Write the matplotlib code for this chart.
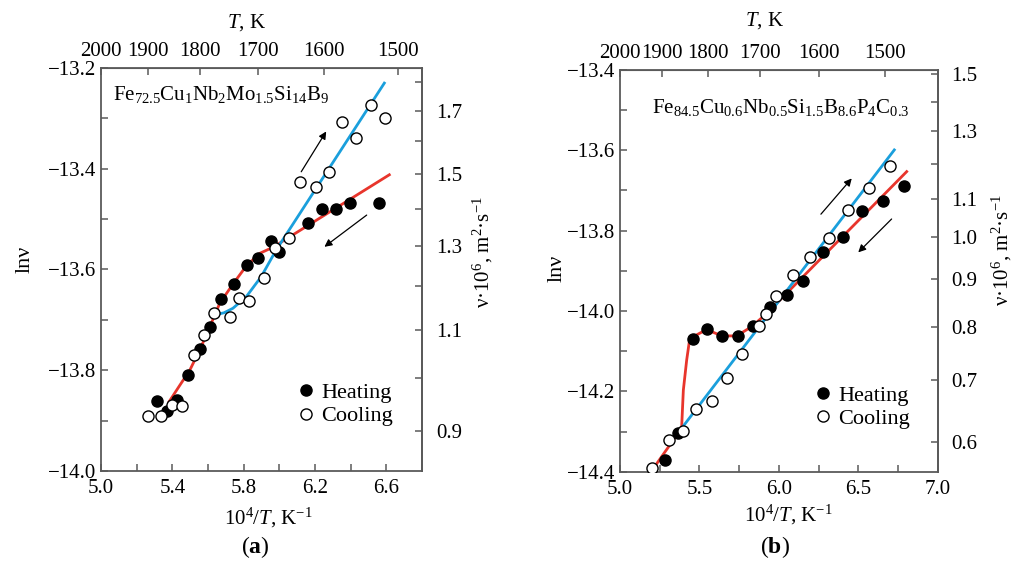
import numpy as np
import matplotlib.pyplot as plt
from matplotlib.lines import Line2D

plt.rcParams['font.family'] = 'Liberation Serif'
plt.rcParams['mathtext.fontset'] = 'custom'
plt.rcParams['mathtext.rm'] = 'Liberation Serif'
plt.rcParams['mathtext.it'] = 'Liberation Serif:italic'
plt.rcParams['mathtext.bf'] = 'Liberation Serif:bold'

RED = '#e8352c'
BLUE = '#1a9fdc'
AXC = '#5a5a5a'

# ---- panel (a): Fe72.5Cu1Nb2Mo1.5Si14B9 ----
heat_a_x = [5.315, 5.371, 5.427, 5.489, 5.558, 5.610, 5.675, 5.744, 5.819, 5.880,
            5.951, 6.001, 6.162, 6.240, 6.320, 6.399, 6.561]
heat_a_y = [-13.861, -13.881, -13.859, -13.809, -13.758, -13.714, -13.659, -13.629,
            -13.591, -13.578, -13.543, -13.565, -13.508, -13.480, -13.480, -13.469, -13.469]
cool_a_x = [5.265, 5.339, 5.401, 5.457, 5.520, 5.576, 5.634, 5.722, 5.772, 5.830,
            5.914, 5.977, 6.052, 6.117, 6.208, 6.281, 6.352, 6.430, 6.514, 6.594]
cool_a_y = [-13.890, -13.890, -13.869, -13.872, -13.770, -13.730, -13.687, -13.695,
            -13.657, -13.662, -13.616, -13.558, -13.537, -13.427, -13.437, -13.407,
            -13.308, -13.338, -13.273, -13.300]
fit_heat_a_x = [5.383, 5.440, 5.498, 5.560, 5.610, 5.666, 5.740, 5.815, 5.890, 5.964, 6.617]
fit_heat_a_y = [-13.862, -13.831, -13.800, -13.755, -13.714, -13.667, -13.629, -13.593,
                -13.568, -13.556, -13.412]
fit_cool_a_x = [5.638, 5.690, 5.740, 5.815, 5.899, 5.983, 6.589]
fit_cool_a_y = [-13.690, -13.686, -13.677, -13.654, -13.614, -13.561, -13.230]
arrow_up_a = [(6.123, -13.406), (6.263, -13.326)]
arrow_down_a = [(6.490, -13.492), (6.253, -13.555)]

# ---- panel (b): Fe84.5Cu0.6Nb0.5Si1.5B8.6P4C0.3 ----
heat_b_x = [5.283, 5.363, 5.458, 5.550, 5.640, 5.741, 5.839, 5.944, 6.049, 6.154,
            6.280, 6.402, 6.521, 6.654, 6.790]
heat_b_y = [-14.371, -14.303, -14.070, -14.045, -14.062, -14.062, -14.037, -13.991,
            -13.960, -13.925, -13.854, -13.817, -13.751, -13.725, -13.688]
cool_b_x = [5.199, 5.311, 5.399, 5.478, 5.577, 5.672, 5.770, 5.875, 5.919, 5.980,
            6.087, 6.196, 6.318, 6.437, 6.568, 6.700]
cool_b_y = [-14.390, -14.321, -14.298, -14.244, -14.223, -14.167, -14.108, -14.037,
            -14.008, -13.963, -13.910, -13.865, -13.819, -13.749, -13.693, -13.638]
fit_heat_b_x = [5.210, 5.388, 5.399, 5.420, 5.441, 5.480, 5.546, 5.640, 5.735, 5.829, 5.924, 6.805]
fit_heat_b_y = [-14.392, -14.292, -14.197, -14.122, -14.064, -14.060, -14.046, -14.062,
                -14.062, -14.039, -14.006, -13.653]
fit_cool_b_x = [5.388, 6.727]
fit_cool_b_y = [-14.292, -13.599]
arrow_up_b = [(6.265, -13.759), (6.459, -13.670)]
arrow_down_b = [(6.710, -13.771), (6.500, -13.854)]

T_ticks = [2000, 1900, 1800, 1700, 1600, 1500]


def inv(x):
    x = np.asarray(x, dtype=float)
    with np.errstate(divide='ignore', invalid='ignore'):
        return np.where(np.abs(x) < 1e-9, 1e9, 1e4 / x)


def to_nu(y):
    return np.exp(np.asarray(y, dtype=float)) * 1e6


def from_nu(v):
    v = np.clip(np.asarray(v, dtype=float), 1e-9, None)
    return np.log(v * 1e-6)


def draw_panel(ax, hx, hy, cx, cy, fhx, fhy, fcx, fcy, up, down,
               xlim, ylim, xmaj, xmin, ymaj, ymin, nu_maj, nu_min, formula,
               leg_anchor, lab):
    ax.plot(fhx, fhy, color=RED, lw=2, zorder=2)
    ax.plot(fcx, fcy, color=BLUE, lw=2, zorder=2)
    ax.plot(hx, hy, 'o', color='black', mec='black', ms=8, zorder=3)
    ax.plot(cx, cy, 'o', color='white', mec='black', mew=1.0, ms=8, zorder=3)
    for a in (up, down):
        ax.annotate('', xy=a[1], xytext=a[0],
                    arrowprops=dict(arrowstyle='-|>', color='black', lw=0.9,
                                    mutation_scale=11, shrinkA=0, shrinkB=0))
    ax.set_xlim(*xlim)
    ax.set_ylim(*ylim)
    ax.set_xticks(xmaj)
    ax.set_xticks(xmin, minor=True)
    ax.set_yticks(ymaj)
    ax.set_yticks(ymin, minor=True)
    ax.set_yticklabels(['\u2212%.1f' % abs(v) for v in ymaj])
    ax.tick_params(which='both', direction='in', length=5, width=1.1, color=AXC,
                   labelsize=15, top=False, right=False)
    ax.tick_params(axis='x', pad=6)
    for s in ax.spines.values():
        s.set_color(AXC)
        s.set_linewidth(1.3)

    top = ax.secondary_xaxis('top', functions=(inv, inv))
    top.set_xticks(T_ticks)
    top.tick_params(direction='in', length=5, width=1.1, color=AXC, labelsize=15, pad=5)
    top.spines['top'].set_color(AXC)

    right = ax.secondary_yaxis('right', functions=(to_nu, from_nu))
    right.set_yticks(nu_maj)
    right.set_yticklabels(['%.1f' % v for v in nu_maj])
    right.set_yticks(nu_min, minor=True)
    right.tick_params(which='both', direction='in', length=5, width=1.1, color=AXC,
                      labelsize=15, pad=10)
    right.spines['right'].set_color(AXC)
    right.spines['right'].set_linewidth(1.3)

    ax.text(lab['formula'][0], lab['formula'][1], formula, transform=ax.transAxes,
            fontsize=15, ha='left', va='baseline')
    ax.text(lab['top'][0], lab['top'][1], r'$\mathit{T}$, K', transform=ax.transAxes,
            fontsize=15, ha='center', va='center')
    ax.text(lab['bottom'][0], lab['bottom'][1], r'10$^4$/$\mathit{T}$, K$^{-1}$',
            transform=ax.transAxes, fontsize=15, ha='center', va='center')
    ax.text(lab['left'][0], lab['left'][1], 'ln\u03bd', transform=ax.transAxes,
            fontsize=16, ha='center', va='center', rotation=90)
    ax.text(lab['right'][0], lab['right'][1], '\u03bd\u00b710$^6$, m$^2$\u00b7s$^{-1}$',
            transform=ax.transAxes, fontsize=15, ha='center', va='center', rotation=90)

    handles = [Line2D([], [], ls='none', marker='o', color='black', ms=8),
               Line2D([], [], ls='none', marker='o', mfc='white', mec='black', ms=8)]
    ax.legend(handles, ['Heating', 'Cooling'], loc='center left', bbox_to_anchor=leg_anchor,
              frameon=False, fontsize=16, handlelength=0.8, handletextpad=0.3,
              labelspacing=0.12, borderpad=0, borderaxespad=0)


fig = plt.figure(figsize=(10.17, 5.62), dpi=100)
ax_a = fig.add_axes([0.0993, 0.162, 0.3156, 0.717])
ax_b = fig.add_axes([0.6096, 0.1607, 0.3124, 0.7148])

draw_panel(ax_a, heat_a_x, heat_a_y, cool_a_x, cool_a_y, fit_heat_a_x, fit_heat_a_y,
           fit_cool_a_x, fit_cool_a_y, arrow_up_a, arrow_down_a,
           (5.0, 6.8), (-14.0, -13.2),
           [5.0, 5.4, 5.8, 6.2, 6.6], [5.2, 5.6, 6.0, 6.4, 6.8],
           [-14.0, -13.8, -13.6, -13.4, -13.2], np.arange(-13.9, -13.2, 0.2),
           [0.9, 1.1, 1.3, 1.5, 1.7], [1.0, 1.2, 1.4, 1.6, 1.8],
           r'Fe$_{72.5}$Cu$_{1}$Nb$_{2}$Mo$_{1.5}$Si$_{14}$B$_{9}$', (0.61, 0.165),
           dict(formula=(0.037, 0.921), top=(0.452, 1.112), bottom=(0.52, -0.117),
                left=(-0.237, 0.524), right=(1.19, 0.543)))

draw_panel(ax_b, heat_b_x, heat_b_y, cool_b_x, cool_b_y, fit_heat_b_x, fit_heat_b_y,
           fit_cool_b_x, fit_cool_b_y, arrow_up_b, arrow_down_b,
           (5.0, 7.0), (-14.4, -13.4),
           [5.0, 5.5, 6.0, 6.5, 7.0], [5.25, 5.75, 6.25, 6.75],
           [-14.4, -14.2, -14.0, -13.8, -13.6, -13.4], np.arange(-14.3, -13.4, 0.2),
           [0.6, 0.7, 0.8, 0.9, 1.0, 1.1, 1.3, 1.5], [1.2, 1.4],
           r'Fe$_{84.5}$Cu$_{0.6}$Nb$_{0.5}$Si$_{1.5}$B$_{8.6}$P$_{4}$C$_{0.3}$', (0.61, 0.161),
           dict(formula=(0.10, 0.893), top=(0.456, 1.124), bottom=(0.529, -0.108),
                left=(-0.198, 0.507), right=(1.202, 0.552)))

fig.text(255 / 1017, 1 - 547 / 562, r'($\mathbf{a}$)', fontsize=17, ha='center', va='center')
fig.text(775 / 1017, 1 - 547 / 562, r'($\mathbf{b}$)', fontsize=17, ha='center', va='center')

fig.savefig('out.png', dpi=100)
